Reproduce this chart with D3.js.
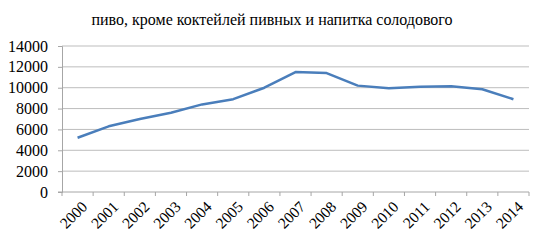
<!DOCTYPE html>
<html>
<head>
<meta charset="utf-8">
<script src="https://cdn.jsdelivr.net/npm/d3@7"></script>
<style>
  body { margin: 0; background: #fff; }
</style>
</head>
<body>
<script>
var width = 546
var height = 247
var serif = "'Liberation Serif', 'Times New Roman', Times, 'DejaVu Serif', serif"

var years = ['2000','2001','2002','2003','2004','2005','2006','2007',
             '2008','2009','2010','2011','2012','2013','2014']
var values = [5200, 6300, 7000, 7600, 8400, 8900, 10000, 11500,
              11400, 10200, 9950, 10100, 10150, 9850, 8900]
var yTicks = [0, 2000, 4000, 6000, 8000, 10000, 12000, 14000]
var title = 'пиво, кроме коктейлей пивных и напитка солодового'

var margin = {top: 46, right: 17, bottom: 55, left: 62}

var svg = d3.select('body')
  .append('svg')
  .attr('width', width)
  .attr('height', height)

var x = d3.scaleBand()
  .domain(years)
  .range([margin.left, width - margin.right])

var y = d3.scaleLinear()
  .domain([0, 14000])
  .range([height - margin.bottom, margin.top])

// gridlines
svg.append('g')
  .selectAll('line')
  .data(yTicks.slice(1))
  .enter()
  .append('line')
  .attr('x1', margin.left)
  .attr('x2', width - margin.right)
  .attr('y1', function(d){ return y(d) })
  .attr('y2', function(d){ return y(d) })
  .attr('stroke', '#bdbdbd')
  .attr('stroke-width', 1)

// y axis
var yAxis = svg.append('g')
  .attr('transform', 'translate(' + margin.left + ',0)')
  .call(d3.axisLeft(y).tickValues(yTicks).tickFormat(d3.format('d')).tickSize(4).tickPadding(10))
yAxis.attr('font-family', null)
yAxis.select('.domain').attr('stroke', '#a6a6a6')
yAxis.selectAll('.tick line').attr('stroke', '#a6a6a6')
yAxis.selectAll('text')
  .style('font-family', serif)
  .style('font-size', '16px')
  .attr('fill', '#000')

// x axis with ticks between categories
var xAxisG = svg.append('g')
  .attr('transform', 'translate(0,' + y(0) + ')')
xAxisG.append('line')
  .attr('x1', margin.left - 4)
  .attr('x2', width - margin.right)
  .attr('stroke', '#a6a6a6')
xAxisG.selectAll('.sep')
  .data(years.concat(['end']))
  .enter()
  .append('line')
  .attr('class', 'sep')
  .attr('x1', function(d, i){ return margin.left + i * x.step() })
  .attr('x2', function(d, i){ return margin.left + i * x.step() })
  .attr('y1', 0)
  .attr('y2', 4)
  .attr('stroke', '#a6a6a6')
xAxisG.selectAll('.lbl')
  .data(years)
  .enter()
  .append('text')
  .attr('class', 'lbl')
  .attr('text-anchor', 'end')
  .style('font-family', serif)
  .style('font-size', '15.5px')
  .attr('transform', function(d){
    return 'translate(' + (x(d) + x.bandwidth() / 2 + 3) + ',8) rotate(-45)'
  })
  .attr('dy', '0.7em')
  .text(function(d){ return d })

// line
var line = d3.line()
  .x(function(d, i){ return x(years[i]) + x.bandwidth() / 2 })
  .y(function(d){ return y(d) })

svg.append('path')
  .datum(values)
  .attr('fill', 'none')
  .attr('stroke', '#4a7ebb')
  .attr('stroke-width', 2.5)
  .attr('stroke-linejoin', 'round')
  .attr('d', line)

svg.append('text')
  .attr('x', 272)
  .attr('y', 25)
  .attr('text-anchor', 'middle')
  .style('font-family', serif)
  .style('font-size', '16px')
  .text(title)
</script>
</body>
</html>
